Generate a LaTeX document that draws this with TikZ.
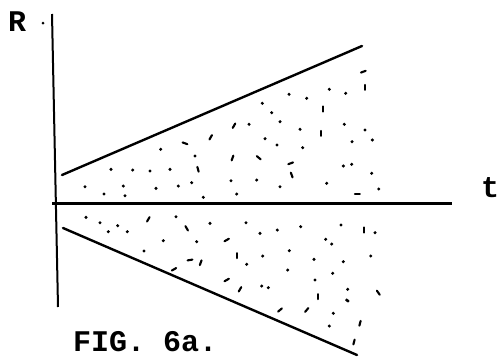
\documentclass[tikz,border=0pt]{standalone}
\usepackage{fontspec}
\setmonofont{Liberation Mono}
\begin{document}
\begin{tikzpicture}[x=1pt,y=-1pt,
  axis/.style={line width=2pt},
  taxis/.style={line width=3pt},
  bound/.style={line width=2.4pt,line cap=round},
  speck/.style={line width=2.1pt,line cap=round},
  lbl/.style={font=\ttfamily\bfseries\fontsize{30}{30}\selectfont,inner sep=0pt,anchor=north west},
  figcaption/.style={font=\ttfamily\bfseries\fontsize{30}{30}\selectfont,inner sep=0pt,anchor=base west}]
\useasboundingbox (0,0) rectangle (501,359);
\fill[white] (0,0) rectangle (501,359);
% axes
\coordinate (vtop) at (52,14);
\coordinate (vbot) at (58,307);
\coordinate (hl) at (52,203);
\coordinate (hr) at (452,203);
\draw[axis] (vtop) -- (vbot);
\draw[taxis] (hl) -- (hr);
% boundary lines
\coordinate (ua) at (62,175);
\coordinate (ub) at (362,46);
\coordinate (la) at (63,228);
\coordinate (lb) at (357,355);
\draw[bound] (ua) -- (ub);
\draw[bound] (la) -- (lb);
% labels
\node[lbl] (R) at (8,12) {R};
\fill (43,23) circle (1.5);
\node[lbl] (t) at (481,177) {t};
\node[figcaption] (fig) at (73,351) {FIG. 6a.};
% dots
\foreach \x/\y in {
 329.3/89.3, 345.7/93.3, 289/94.3, 306.7/98.3, 262.3/103.3, 271.7/112.7, 280/121.7,
 249/124.3, 300/129.3, 344.3/124.3, 365/130, 372.3/140, 265/138.7, 277/145, 302.7/147.7,
 352/141.7, 160.7/149.3, 195/156, 343.3/166, 351.7/164.3, 371.7/173.3, 111/169.3,
 132.7/170, 150/171, 170/169.3, 85/186.7, 123.3/186, 156/188.3, 178.3/186, 191.7/182.7,
 231/180.7, 256.7/180, 280/186.7, 326.7/183.3, 378.7/189, 104/194, 125/195.7, 203.3/197.3,
 236.7/194,
 86/217.3, 100/222.7, 108.3/231.7, 117.7/225.7, 127.3/231.7, 176/216.7, 210/223.3,
 246/222.7, 260/233.3, 277.3/230, 300.7/226.7, 341/225, 375/232.7, 163.3/240.7,
 196.7/241.7, 325.7/239.3, 331.7/244, 144/251, 262.7/256, 289.3/250.7, 314/259.3,
 343.3/261.7, 370.7/256, 246.7/264.3, 287.7/270, 332.7/273.3, 315/280, 261.7/286,
 268.3/287.7, 347.7/289.3, 346.7/300, 333.3/313.3, 329.3/326, 348/301}
 \fill (\x,\y) circle (1.7);
% dashes
\foreach \x/\y/\a in {
 363.3/71.7/-20, 365/87.3/90, 323.3/109/90, 321/133.3/90, 234/125.7/-60, 210.7/137.3/-60,
 291.7/175/70, 232.5/158/-70, 198/169.3/75, 185/143.3/20, 258.7/157.7/40, 290.7/163.3/-20,
 357.3/194.3/0, 148.3/219.3/-60, 186.7/228.3/60, 226.7/240/-30, 364/230/90, 237.3/255.7/90,
 190/260/-10, 200.7/262.7/-70, 174/269.3/-30, 226.7/280/-30, 240/289.3/-60, 318.3/296.7/90,
 378.3/292.7/55, 306.7/310/-50, 280/310/-40, 360/323.3/-75, 354/342/-75}
 \draw[speck] (\x,\y) ++(\a:-2.5) -- ++(\a:5);
\end{tikzpicture}
\end{document}
